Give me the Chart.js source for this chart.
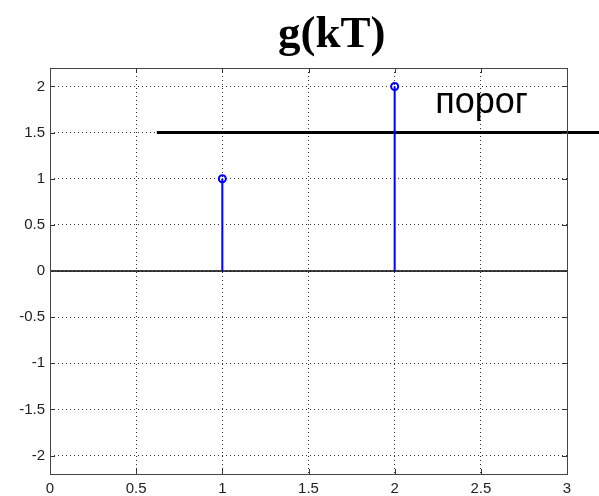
<!DOCTYPE html>
<html>
<head>
<meta charset="utf-8">
<script src="https://cdn.jsdelivr.net/npm/chart.js@4/dist/chart.umd.min.js"></script>
<style>
html, body { margin: 0; padding: 0; background: #fff; }
</style>
</head>
<body>
<canvas id="myChart" width="599" height="496"></canvas>
<script>
// data
const kValues = [1, 2];
const gValues = [1, 2];
const threshold = 1.5;
const thresholdFrom = 0.62;
const thresholdTo = 3.2;
const xTicks = [0, 0.5, 1, 1.5, 2, 2.5, 3];
const yTicks = [-2, -1.5, -1, -0.5, 0, 0.5, 1, 1.5, 2];
const titleText = 'g(kT)';
const thresholdLabel = 'порог';
const thresholdLabelX = 2.235;

const stemPoints = kValues.flatMap((k, i) => [{x: k, y: 0}, {x: k, y: gValues[i]}, {x: k, y: null}]);
const markerPoints = kValues.map((k, i) => ({x: k, y: gValues[i]}));

// matlab style box, inner ticks and the texts
const matlabBox = {
    id: 'matlabBox',
    afterDraw(chart) {
        const {ctx, chartArea: a, scales: {x, y}} = chart;
        ctx.save();
        ctx.strokeStyle = '#333';
        ctx.lineWidth = 1;
        ctx.beginPath();
        xTicks.forEach(v => {
            const px = Math.round(x.getPixelForValue(v)) + 0.5;
            ctx.moveTo(px, a.bottom); ctx.lineTo(px, a.bottom - 5);
            ctx.moveTo(px, a.top); ctx.lineTo(px, a.top + 5);
        });
        yTicks.forEach(v => {
            const py = Math.round(y.getPixelForValue(v)) + 0.5;
            ctx.moveTo(a.left, py); ctx.lineTo(a.left + 5, py);
            ctx.moveTo(a.right, py); ctx.lineTo(a.right - 5, py);
        });
        ctx.stroke();
        ctx.strokeStyle = '#444';
        ctx.strokeRect(Math.round(a.left) + 0.5, Math.round(a.top) + 0.5,
            Math.round(a.right - a.left), Math.round(a.bottom - a.top));

        ctx.fillStyle = '#000';
        ctx.font = 'bold 45px "Liberation Serif", "Times New Roman", serif';
        ctx.textAlign = 'center';
        ctx.textBaseline = 'alphabetic';
        ctx.fillText(titleText, a.left + (a.right - a.left) * 0.545, 47);

        ctx.font = '36px "Liberation Sans", Arial, sans-serif';
        ctx.textAlign = 'left';
        ctx.fillText(thresholdLabel, x.getPixelForValue(thresholdLabelX), y.getPixelForValue(threshold) - 20);
        ctx.restore();
    }
};

const tickFont = {family: '"Liberation Sans", Arial, sans-serif', size: 15};

const ctx = document.getElementById('myChart').getContext('2d');
const myChart = new Chart(ctx, {
    type: 'scatter',
    data: {
        datasets: [
            {
                label: 'g(kT)',
                data: markerPoints,
                pointStyle: 'circle',
                pointRadius: 3.5,
                borderWidth: 2,
                borderColor: '#0000ff',
                backgroundColor: 'rgba(0,0,0,0)'
            },
            {
                label: 'stems',
                data: stemPoints,
                showLine: true,
                spanGaps: false,
                pointRadius: 0,
                borderWidth: 2,
                borderColor: '#0000ff'
            },
            {
                label: 'порог',
                data: [{x: thresholdFrom, y: threshold}, {x: thresholdTo, y: threshold}],
                showLine: true,
                pointRadius: 0,
                borderWidth: 3,
                borderColor: '#000',
                clip: false
            },
            {
                label: 'zero',
                data: [{x: xTicks[0], y: 0}, {x: xTicks[xTicks.length - 1], y: 0}],
                showLine: true,
                pointRadius: 0,
                borderWidth: 1.5,
                borderColor: '#000'
            }
        ]
    },
    options: {
        responsive: false,
        animation: false,
        devicePixelRatio: 1,
        layout: {padding: {top: 68, right: 32, left: 0, bottom: 0}},
        plugins: {
            legend: {display: false},
            tooltip: {enabled: false},
            title: {display: false}
        },
        scales: {
            x: {
                type: 'linear',
                min: xTicks[0],
                max: xTicks[xTicks.length - 1],
                afterBuildTicks: s => { s.ticks = xTicks.map(v => ({value: v})); },
                afterFit: s => { s.height = 22; },
                grid: {color: '#333', drawTicks: false, lineWidth: 1},
                border: {display: false, dash: [1, 3]},
                ticks: {padding: 6, color: '#222', font: tickFont, maxRotation: 0, callback: v => String(v)}
            },
            y: {
                type: 'linear',
                min: -2.2,
                max: 2.2,
                afterBuildTicks: s => { s.ticks = yTicks.map(v => ({value: v})); },
                afterFit: s => { s.width = 50; },
                grid: {color: '#333', drawTicks: false, lineWidth: 1},
                border: {display: false, dash: [1, 3]},
                ticks: {padding: 5, color: '#222', font: tickFont, callback: v => String(v)}
            }
        }
    },
    plugins: [matlabBox]
});
</script>
</body>
</html>
